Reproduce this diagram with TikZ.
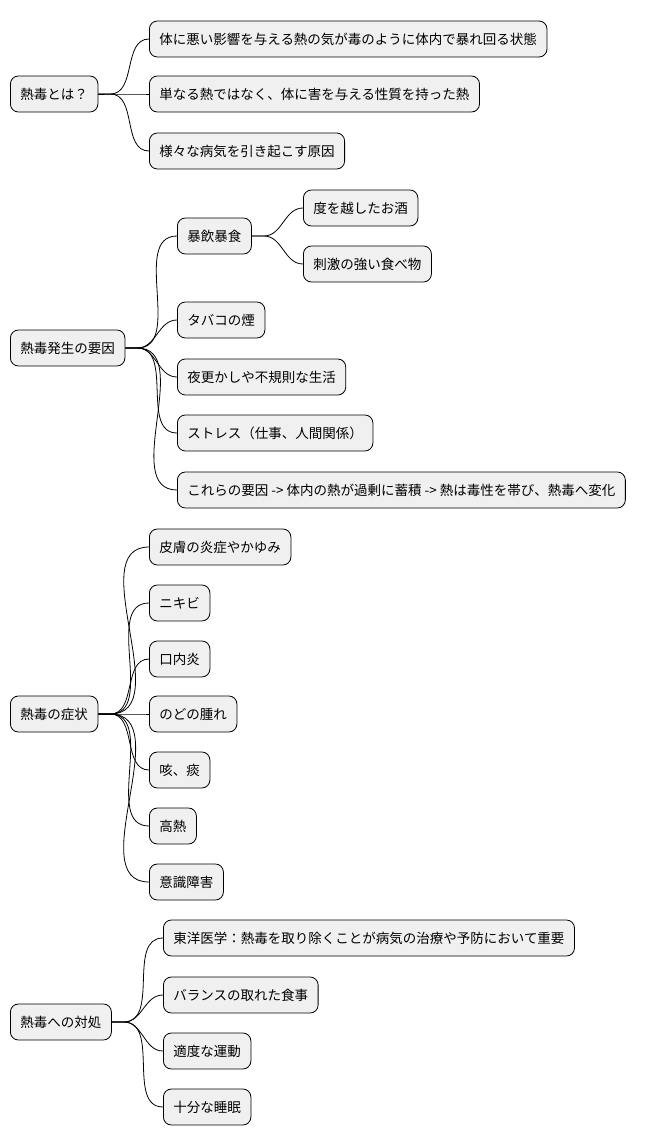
\documentclass[tikz,border=0pt]{standalone}
\usepackage{fontspec}
\setmainfont{Noto Sans CJK JP}
\begin{document}
\begin{tikzpicture}[x=1pt,y=-1pt,
  box/.style={draw=black,fill=gray!12,rounded corners=8pt,line width=0.8pt,minimum height=36pt,inner xsep=10pt,anchor=west,font=\fontsize{13.5}{16}\selectfont},
  ln/.style={line width=0.8pt}]
\useasboundingbox (0,0) rectangle (666,1146);
\newcommand{\lnk}[2]{\draw[ln] (#1.east) -- ++(12,0) to[out=0,in=180] (#2.west);}
% group 1
\node[box] (r1) at (10,94) {熱毒とは？};
\node[box] (a1) at (149,39) {体に悪い影響を与える熱の気が毒のように体内で暴れ回る状態};
\node[box] (a2) at (149,94) {単なる熱ではなく、体に害を与える性質を持った熱};
\node[box] (a3) at (149,151) {様々な病気を引き起こす原因};
\foreach \c in {a1,a2,a3} {\lnk{r1}{\c}}
% group 2
\node[box] (r2) at (10,348) {熱毒発生の要因};
\node[box] (b1) at (177,236) {暴飲暴食};
\node[box] (b11) at (303,208) {度を越したお酒};
\node[box] (b12) at (303,264) {刺激の強い食べ物};
\node[box] (b2) at (177,320) {タバコの煙};
\node[box] (b3) at (177,377) {夜更かしや不規則な生活};
\node[box] (b4) at (177,433) {ストレス（仕事、人間関係）};
\node[box] (b5) at (177,490) {これらの要因 -> 体内の熱が過剰に蓄積 -> 熱は毒性を帯び、熱毒へ変化};
\foreach \c in {b1,b2,b3,b4,b5} {\lnk{r2}{\c}}
\foreach \c in {b11,b12} {\lnk{b1}{\c}}
% group 3
\node[box] (r3) at (10,714) {熱毒の症状};
\node[box] (c1) at (149,547) {皮膚の炎症やかゆみ};
\node[box] (c2) at (149,603) {ニキビ};
\node[box] (c3) at (149,659) {口内炎};
\node[box] (c4) at (149,714) {のどの腫れ};
\node[box] (c5) at (149,770) {咳、痰};
\node[box] (c6) at (149,826) {高熱};
\node[box] (c7) at (149,882) {意識障害};
\foreach \c in {c1,c2,c3,c4,c5,c6,c7} {\lnk{r3}{\c}}
% group 4
\node[box] (r4) at (10,1022) {熱毒への対処};
\node[box] (d1) at (163,938) {東洋医学：熱毒を取り除くことが病気の治療や予防において重要};
\node[box] (d2) at (163,995) {バランスの取れた食事};
\node[box] (d3) at (163,1051) {適度な運動};
\node[box] (d4) at (163,1107) {十分な睡眠};
\foreach \c in {d1,d2,d3,d4} {\lnk{r4}{\c}}
\end{tikzpicture}
\end{document}
